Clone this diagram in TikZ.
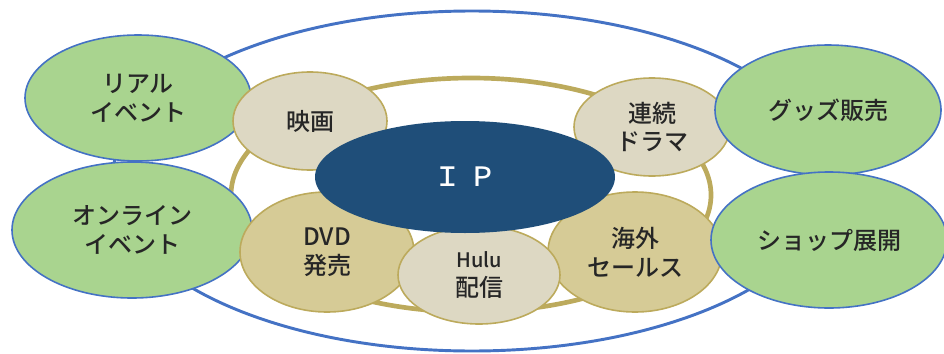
\documentclass[tikz,border=0pt]{standalone}
\usepackage{fontspec}
\setmainfont{Noto Sans CJK JP}[BoldFont={Noto Sans CJK JP Medium}]
\usetikzlibrary{shapes.geometric}
\definecolor{leafgreen}{HTML}{A9D48F}
\definecolor{edgeblue}{HTML}{4472C4}
\definecolor{paletan}{HTML}{DDD8C3}
\definecolor{deeptan}{HTML}{D6CB96}
\definecolor{ringgold}{HTML}{BCAA5C}
\definecolor{ipblue}{HTML}{1F4E79}
\newlength{\pxu}
\setlength{\pxu}{0.75pt}

\begin{document}
\begin{tikzpicture}[x=\pxu, y=-\pxu,
    blob/.style={ellipse, inner sep=0pt, align=center, line width=1.2pt,
      font=\fontsize{18}{21.5}\selectfont\bfseries, text=black!85},
    event/.style={blob, fill=leafgreen, draw=edgeblue},
    media/.style={blob, fill=paletan, draw=ringgold},
    sales/.style={blob, fill=deeptan, draw=ringgold}]
  \useasboundingbox (0, 0) rectangle (944, 353);

  % rings
  \draw[edgeblue, line width=2.2pt] (472, 181) ellipse [x radius=360, y radius=170];
  \draw[ringgold, line width=3.5pt] (471, 195) ellipse [x radius=240, y radius=117];

  % left
  \node[event, minimum width=226\pxu, minimum height=126\pxu] (real) at (138, 98) {リアル\\イベント};
  \node[event, minimum width=240\pxu, minimum height=136\pxu] (online) at (132, 230) {オンライン\\イベント};

  % media
  \node[media, minimum width=154\pxu, minimum height=98\pxu] (movie) at (310, 121) {映画};
  \node[media, minimum width=156\pxu, minimum height=98\pxu] (drama) at (652, 127) {連続\\ドラマ};
  \node[sales, minimum width=174\pxu, minimum height=120\pxu] (dvd) at (327, 252) {DVD\\発売};
  \node[sales, minimum width=174\pxu, minimum height=120\pxu] (abroad) at (635, 252) {海外\\セールス};
  \node[media, minimum width=162\pxu, minimum height=98\pxu] (hulu) at (479, 275) {{\fontsize{15}{18}\selectfont Hulu}\\配信};

  \node[ellipse, fill=ipblue, minimum width=300\pxu, minimum height=112\pxu, text=white,
    font=\fontsize{20}{22}\selectfont\bfseries] (ip) at (465, 177) {Ｉ\hspace{0.3em}Ｐ};

  % right
  \node[event, minimum width=226\pxu, minimum height=130\pxu] (goods) at (828, 110) {グッズ販売};
  \node[event, minimum width=236\pxu, minimum height=136\pxu] (shop) at (829, 240) {ショップ展開};
\end{tikzpicture}
\end{document}
